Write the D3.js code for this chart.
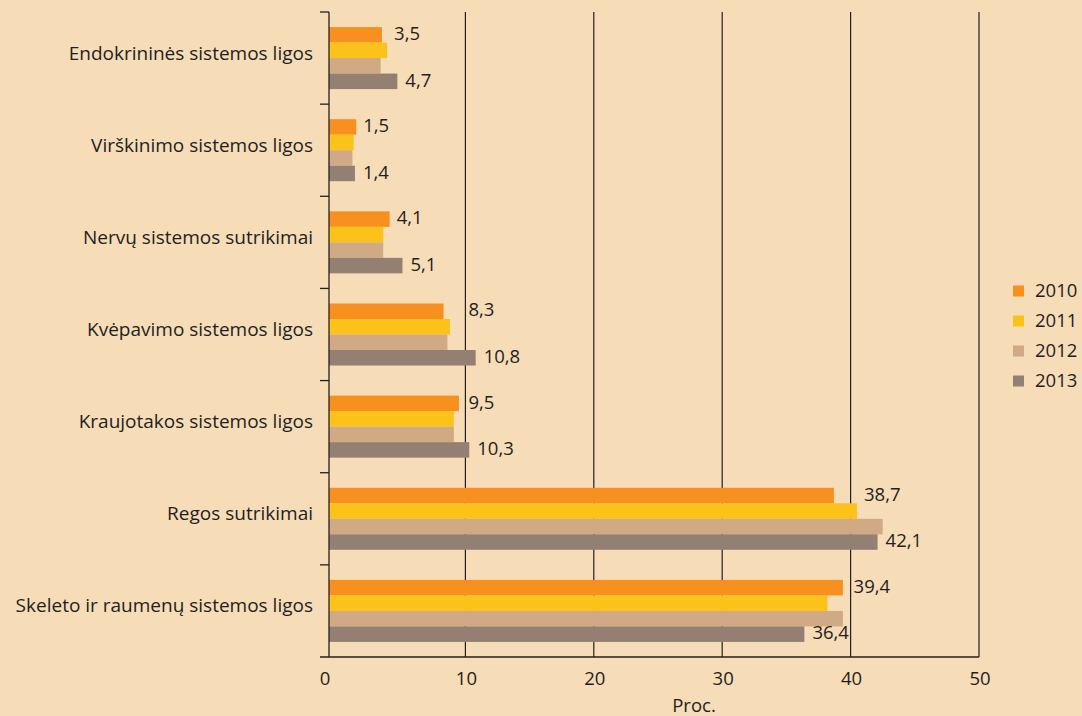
<!DOCTYPE html>
<html>
<head>
<meta charset="utf-8">
<script src="https://cdn.jsdelivr.net/npm/d3@7"></script>
<style>
  html, body { margin: 0; padding: 0; background: #f7dcb8; }
  svg text { font-family: "Open Sans", "Noto Sans", sans-serif; fill: #231f20; }
</style>
</head>
<body>
<svg id="chart" width="1082" height="716"></svg>
<script>
// data
const categories = [
    "Endokrininės sistemos ligos",
    "Virškinimo sistemos ligos",
    "Nervų sistemos sutrikimai",
    "Kvėpavimo sistemos ligos",
    "Kraujotakos sistemos ligos",
    "Regos sutrikimai",
    "Skeleto ir raumenų sistemos ligos"
];
const years = ["2010", "2011", "2012", "2013"];
const values2010 = [3.5, 1.5, 4.1, 8.3, 9.5, 38.7, 39.4];
const values2011 = [3.9, 1.3, 3.6, 8.8, 9.1, 40.5, 38.2];
const values2012 = [3.4, 1.2, 3.6, 8.6, 9.1, 42.5, 39.4];
const values2013 = [4.7, 1.4, 5.1, 10.8, 10.3, 42.1, 36.4];
const xTicks = [0, 10, 20, 30, 40, 50];
const colors = ["#f7901e", "#fbc31a", "#d0aa85", "#947f73"];

const seriesByYear = [values2010, values2011, values2012, values2013];
const rows = categories.map((c, i) => ({
    name: c,
    vals: seriesByYear.map((s, k) => ({ year: years[k], v: s[i] }))
}));

const svg = d3.select("#chart");
const W = 1082, H = 716;
const plotTop = 12, plotBottom = 657, axisX = 329;
const ink = "#231f20";
const fs = 18.5;

svg.append("rect").attr("width", W).attr("height", H).attr("fill", "#f7dcb8");

const x = d3.scaleLinear().domain([0, 50]).range([337, 979]);
const y = d3.scaleBand().domain(categories).range([plotTop, plotBottom])
    .paddingInner(0.327).paddingOuter(0.1635);
const yy = d3.scaleBand().domain(years).range([0, y.bandwidth()]);

// vertical grid lines
svg.append("g").selectAll("line").data(xTicks.filter(t => t > 0)).enter().append("line")
    .attr("x1", d => x(d)).attr("x2", d => x(d))
    .attr("y1", plotTop).attr("y2", plotBottom)
    .attr("stroke", ink).attr("stroke-width", 1.2);

// bars
const groups = svg.append("g").selectAll("g").data(rows).enter().append("g")
    .attr("transform", d => `translate(0,${y(d.name)})`);
groups.selectAll("rect").data(d => d.vals).enter().append("rect")
    .attr("x", axisX)
    .attr("y", d => yy(d.year))
    .attr("width", d => x(d.v) - axisX)
    .attr("height", yy.bandwidth())
    .attr("fill", (d, i) => colors[i]);

// axes
svg.append("line").attr("x1", axisX).attr("x2", axisX).attr("y1", plotTop).attr("y2", plotBottom)
    .attr("stroke", ink).attr("stroke-width", 1.3);
svg.append("line").attr("x1", axisX - 9).attr("x2", x(50)).attr("y1", plotBottom).attr("y2", plotBottom)
    .attr("stroke", ink).attr("stroke-width", 1.3);

const half = y.step() * y.paddingInner() / 2;
const bounds = categories.map(c => y(c) - half);
svg.append("g").selectAll("line").data(bounds).enter().append("line")
    .attr("x1", axisX - 9).attr("x2", axisX)
    .attr("y1", d => d).attr("y2", d => d)
    .attr("stroke", ink).attr("stroke-width", 1.3);

// category labels
svg.append("g").selectAll("text").data(categories).enter().append("text")
    .attr("x", 313)
    .attr("y", d => y(d) + y.bandwidth() / 2 + 1.5)
    .attr("text-anchor", "end")
    .attr("font-size", 19)
    .text(d => d);

// x tick labels
svg.append("g").selectAll("text").data(xTicks).enter().append("text")
    .attr("x", d => d === 0 ? axisX - 4 : x(d) + 1)
    .attr("y", 685)
    .attr("text-anchor", "middle")
    .attr("font-size", fs)
    .text(d => d);

svg.append("text").attr("x", 694).attr("y", 712)
    .attr("text-anchor", "middle").attr("font-size", fs).text("Proc.");

// value labels (2010 and 2013)
const fmt = v => String(v).replace(".", ",");
const grid = xTicks.filter(t => t > 0).map(t => x(t));
rows.forEach(r => {
    const gy = y(r.name);
    const t1 = svg.append("text")
        .attr("y", gy + yy("2010") + yy.bandwidth() / 2)
        .attr("dy", "0.28em").attr("font-size", fs)
        .text(fmt(r.vals[0].v));
    const w = t1.node().getComputedTextLength();
    let lx = x(Math.max(r.vals[0].v, r.vals[1].v)) + 7;
    grid.forEach(g => { if (g > lx - 3 && g < lx + w) lx = g + 3; });
    t1.attr("x", lx);

    svg.append("text")
        .attr("x", x(r.vals[3].v) + 8)
        .attr("y", gy + yy("2013") + yy.bandwidth() / 2)
        .attr("dy", "0.28em").attr("font-size", fs)
        .text(fmt(r.vals[3].v));
});

// legend
const legend = svg.append("g").selectAll("g").data(years).enter().append("g")
    .attr("transform", (d, i) => `translate(1013,${291 + i * 30})`);
legend.append("rect").attr("x", 0).attr("y", -5.5).attr("width", 11).attr("height", 11)
    .attr("fill", (d, i) => colors[i]);
legend.append("text").attr("x", 22).attr("dy", "0.32em").attr("font-size", fs).text(d => d);
</script>
</body>
</html>
